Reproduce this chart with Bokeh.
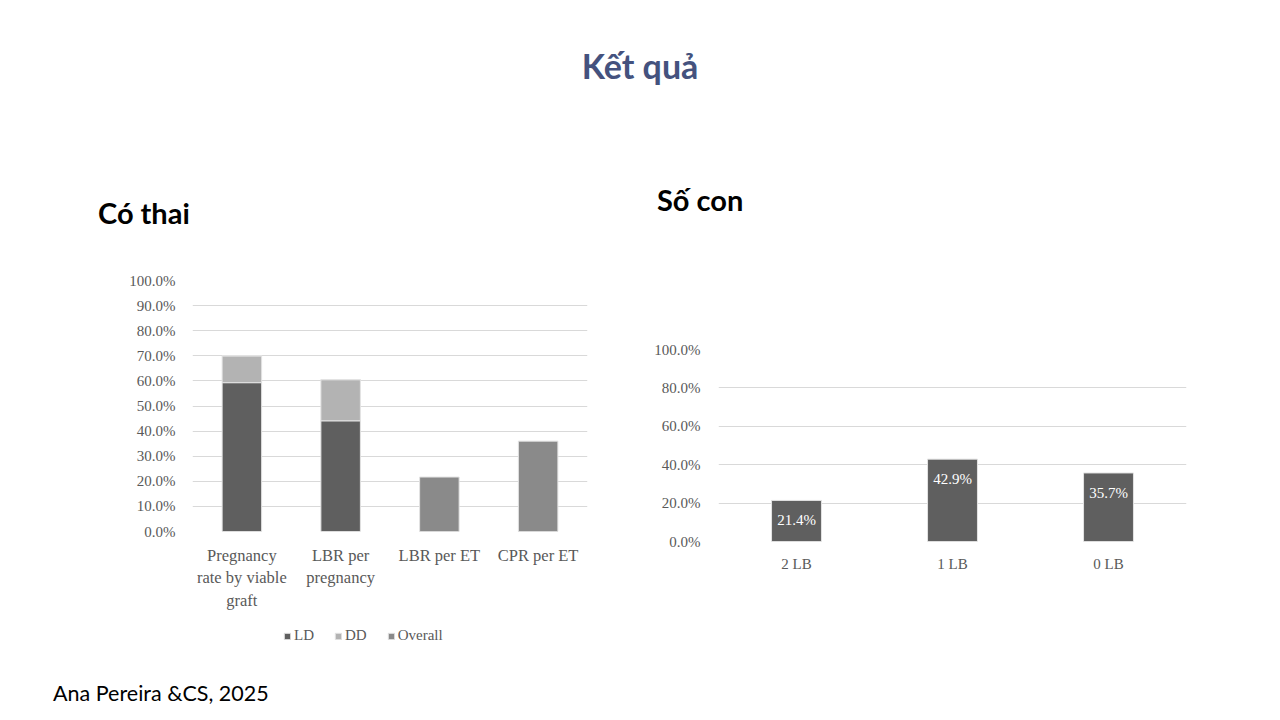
from bokeh.plotting import figure
from bokeh.models import (ColumnDataSource, FactorRange, Range1d, NumeralTickFormatter,
                          FixedTicker, Div, LabelSet, Legend, LegendItem)
from bokeh.layouts import column, row
from bokeh.embed import file_html
from bokeh.resources import INLINE

# ---------------- data ----------------
left_categories = ["Pregnancy\nrate by viable\ngraft", "LBR per\npregnancy", "LBR per ET", "CPR per ET"]
left_series = ["LD", "DD", "Overall"]
ld_values = [0.593, 0.441, 0.0, 0.0]
dd_values = [0.107, 0.164, 0.0, 0.0]
overall_values = [0.0, 0.0, 0.217, 0.360]
left_ticks = [0.0, 0.1, 0.2, 0.3, 0.4, 0.5, 0.6, 0.7, 0.8, 0.9, 1.0]

right_categories = ["2 LB", "1 LB", "0 LB"]
right_values = [0.214, 0.429, 0.357]
right_ticks = [0.0, 0.2, 0.4, 0.6, 0.8, 1.0]

main_title = "Kết quả"
left_title = "Có thai"
right_title = "Số con"
citation = "Ana Pereira &CS, 2025"

# ---------------- style ----------------
SERIF = "Liberation Serif"
SANS = "Lato"
TXT = "#595959"
GRID = "#d9d9d9"
colors = ["#5f5f5f", "#b3b3b3", "#8a8a8a"]


def style_axes(p, ticks, xsize, ysize, xstand, ystand):
    p.yaxis.ticker = FixedTicker(ticks=ticks)
    p.yaxis.formatter = NumeralTickFormatter(format="0.0%")
    for ax in (p.xaxis[0], p.yaxis[0]):
        ax.axis_line_color = None
        ax.major_tick_line_color = None
        ax.minor_tick_line_color = None
        ax.major_label_text_font = SERIF
        ax.major_label_text_color = TXT
    p.xaxis.major_label_text_font_size = xsize
    p.yaxis.major_label_text_font_size = ysize
    p.xaxis.major_label_standoff = xstand
    p.yaxis.major_label_standoff = ystand
    p.xgrid.grid_line_color = None
    p.ygrid.grid_line_color = GRID
    p.ygrid.grid_line_width = 1
    p.outline_line_color = None


def text_div(text, w, h, pad_left, pad_top, size, weight="normal", color="black", align="left"):
    html = (f'<div style="width:{w - pad_left}px;padding-left:{pad_left}px;padding-top:{pad_top}px;'
            f'text-align:{align};font-family:{SANS};font-weight:{weight};font-size:{size}px;'
            f'line-height:{int(size * 1.2)}px;color:{color};white-space:nowrap">{text}</div>')
    return Div(text=html, width=w, height=h, margin=(0, 0, 0, 0))


# ---------------- left chart ----------------
src_left = ColumnDataSource(dict(cat=left_categories, LD=ld_values, DD=dd_values, Overall=overall_values))
pl = figure(width=640, height=375, x_range=FactorRange(*left_categories),
            y_range=Range1d(0, 1.0), output_backend="svg", toolbar_location=None,
            min_border_left=192, min_border_right=53, min_border_top=40, min_border_bottom=84)
pl.vbar_stack(left_series, x="cat", width=0.4, source=src_left, color=colors,
              line_color="#e3e3e3", line_width=1)
style_axes(pl, left_ticks, "16.5px", "15px", 8, 11)

# legend strip below the left chart (same series, legend only)
pleg = figure(width=640, height=40, x_range=FactorRange(*left_categories), y_range=Range1d(2, 3),
              output_backend="svg", toolbar_location=None,
              min_border_left=0, min_border_right=0, min_border_top=0, min_border_bottom=0)
leg_rends = pleg.vbar_stack(left_series, x="cat", width=0.4, source=src_left, color=colors,
                            line_color="#e3e3e3", line_width=1)
for r in leg_rends:
    r.visible = False
pleg.axis.visible = False
pleg.grid.grid_line_color = None
pleg.outline_line_color = None
lg = Legend(items=[LegendItem(label=s, renderers=[r]) for s, r in zip(left_series, leg_rends)],
            orientation="horizontal", location=(91, 11))
lg.label_text_font = SERIF
lg.label_text_font_size = "15px"
lg.label_text_color = TXT
lg.border_line_alpha = 0
lg.background_fill_alpha = 0
lg.glyph_width = 8
lg.glyph_height = 8
lg.spacing = 20
lg.label_standoff = 3
lg.padding = 0
lg.margin = 0
pleg.add_layout(lg, "center")

# ---------------- right chart ----------------
src_right = ColumnDataSource(dict(cat=right_categories, val=right_values,
                                  lab=[f"{v*100:.1f}%" for v in right_values]))
pr = figure(width=640, height=390, x_range=FactorRange(*right_categories), y_range=Range1d(0, 1.0),
            output_backend="svg", toolbar_location=None,
            min_border_left=78, min_border_right=94, min_border_top=119, min_border_bottom=79)
pr.vbar(x="cat", top="val", width=0.32, source=src_right, color=colors[0],
        line_color="#e3e3e3", line_width=1)
pr.add_layout(LabelSet(x="cat", y="val", text="lab", source=src_right, y_offset=-20,
                       text_align="center", text_baseline="middle", text_color="white",
                       text_font=SERIF, text_font_size="15px"))
style_axes(pr, right_ticks, "15px", "15px", 8, 12)

# ---------------- page ----------------
title_div = text_div(main_title, 1280, 100, 0, 46, 34, "bold", "#44527e", "center")
left_sub = text_div(left_title, 640, 140, 98, 96, 29, "bold")
right_sub = text_div(right_title, 640, 130, 17, 83, 29, "bold")
cite_div = text_div(citation, 640, 65, 53, 26, 21.5)

page = column(title_div,
              row(column(left_sub, pl, pleg, cite_div, spacing=0),
                  column(right_sub, pr, spacing=0), spacing=0),
              spacing=0)
open("out.html", "w").write(file_html(page, INLINE))
